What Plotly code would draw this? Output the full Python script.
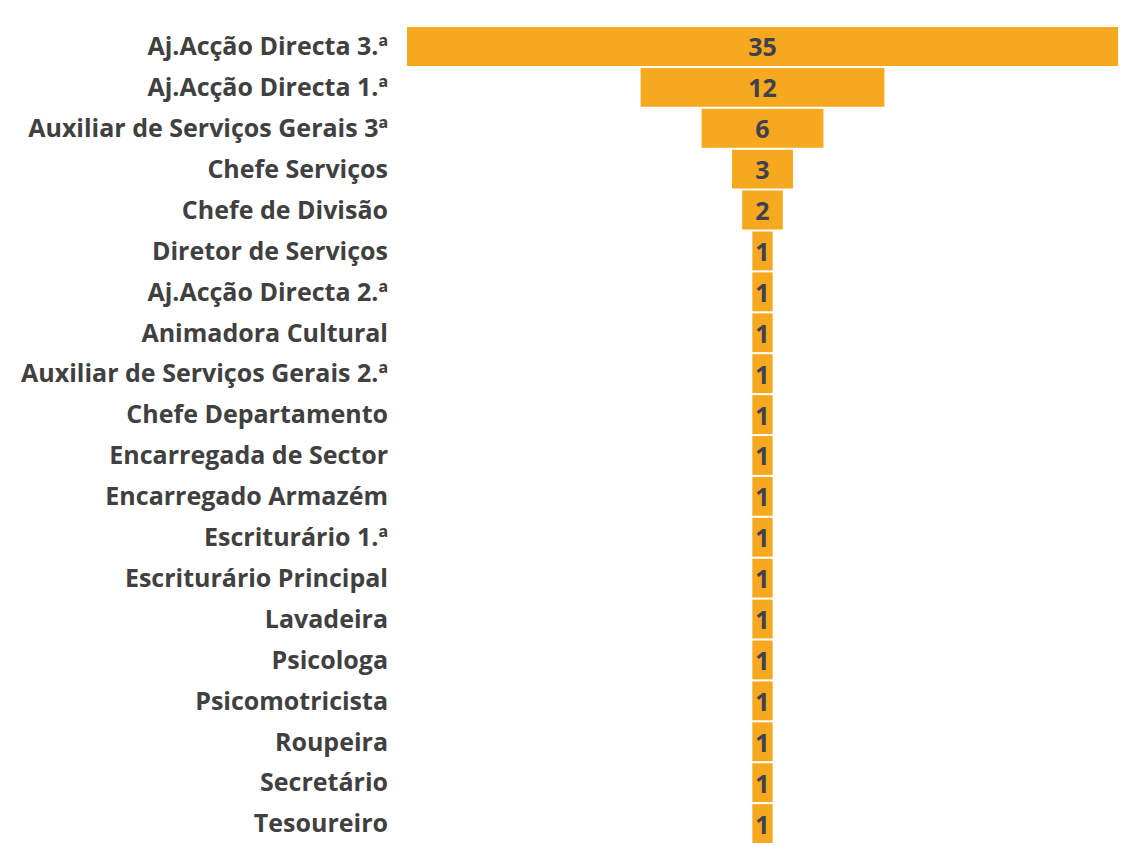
import plotly.graph_objects as go

categories = [
    "Aj.Acção Directa 3.ª", "Aj.Acção Directa 1.ª", "Auxiliar de Serviços Gerais 3ª",
    "Chefe Serviços", "Chefe de Divisão", "Diretor de Serviços", "Aj.Acção Directa 2.ª",
    "Animadora Cultural", "Auxiliar de Serviços Gerais 2.ª", "Chefe Departamento",
    "Encarregada de Sector", "Encarregado Armazém", "Escriturário 1.ª",
    "Escriturário Principal", "Lavadeira", "Psicologa", "Psicomotricista",
    "Roupeira", "Secretário", "Tesoureiro",
]
values = [35, 12, 6, 3, 2, 1, 1, 1, 1, 1, 1, 1, 1, 1, 1, 1, 1, 1, 1, 1]

fig = go.Figure(go.Funnel(
    y=categories,
    x=values,
    textinfo="value",
    textposition="inside",
    constraintext="none",
    insidetextanchor="middle",
    textfont=dict(family="Open Sans", size=25, color="#3f4050", weight="bold"),
    marker=dict(color="#F6A81E"),
    connector=dict(visible=False),
))

fig.update_layout(
    width=1110, height=838,
    margin=dict(l=399, r=0, t=18, b=2),
    paper_bgcolor="white", plot_bgcolor="white",
    funnelgap=0.05,
    showlegend=False,
    font=dict(family="Open Sans", color="#404040"),
)
fig.update_xaxes(visible=False, range=[-17.5, 17.5], autorange=False)
fig.update_yaxes(
    tickfont=dict(family="Open Sans", size=25, color="#404040", weight="bold"),
    ticklabelstandoff=18, showgrid=False, showline=False, ticks="",
    automargin=False,
)

fig.write_html("out.html")
